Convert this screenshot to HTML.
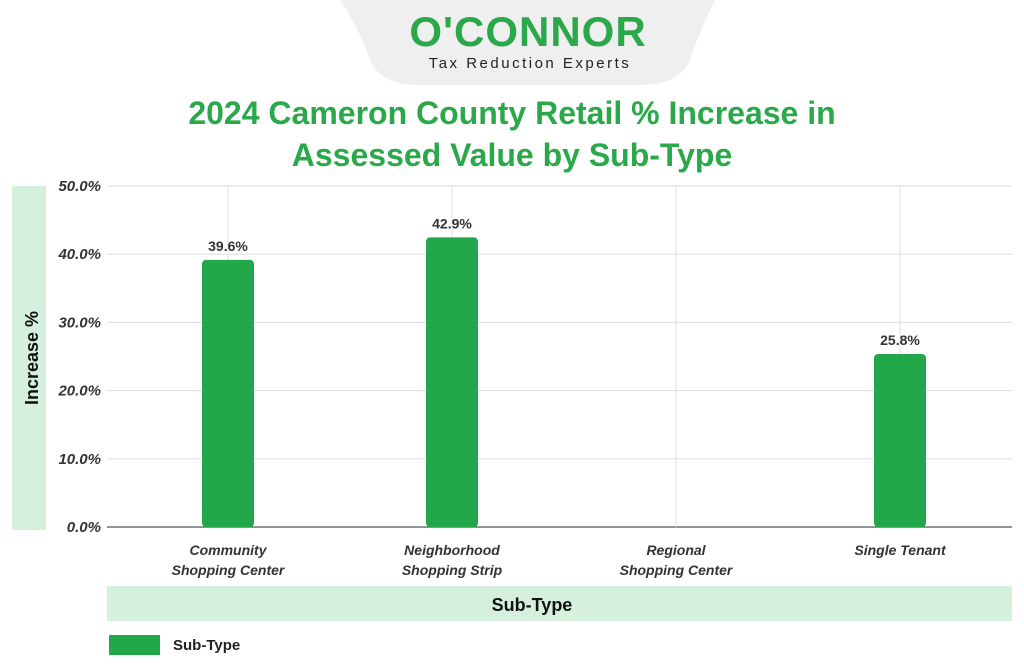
<!DOCTYPE html>
<html><head><meta charset="utf-8"><style>
body{margin:0;width:1024px;height:669px;background:#fff;font-family:"Liberation Sans",sans-serif;overflow:hidden;position:relative}
</style></head><body>
<svg width="1024" height="669" style="position:absolute;left:0;top:0">
<path d="M340 0 L715 0 Q700 30 690 60 Q680 85 640 85 L420 85 Q380 85 370 60 Q360 30 340 0Z" fill="#efefef"/>
<text x="528" y="46" text-anchor="middle" font-size="42" font-weight="bold" fill="#2aa84a" letter-spacing="1">O'CONNOR</text>
<text x="530" y="68" text-anchor="middle" font-size="15" fill="#222" letter-spacing="2.5">Tax Reduction Experts</text>
<text x="512" y="124" text-anchor="middle" font-size="32" font-weight="bold" fill="#2aa84a">2024 Cameron County Retail % Increase in</text>
<text x="512" y="166" text-anchor="middle" font-size="32" font-weight="bold" fill="#2aa84a">Assessed Value by Sub-Type</text>
<rect x="12" y="186" width="34" height="344" fill="#d5f0dc"/>
<text transform="translate(38,358) rotate(-90)" text-anchor="middle" font-size="18" font-weight="bold" fill="#111">Increase %</text>
<rect x="107" y="586" width="905" height="35" fill="#d5f0dc"/>
<text x="532" y="611" text-anchor="middle" font-size="18" font-weight="bold" fill="#111">Sub-Type</text>
<rect x="109" y="635" width="51" height="20" fill="#22a84a"/>
<text x="173" y="650" font-size="15" font-weight="bold" fill="#222">Sub-Type</text>
<g id="plot"></g>
</svg>
<script>
const categories=[["Community","Shopping Center"],["Neighborhood","Shopping Strip"],["Regional","Shopping Center"],["Single Tenant"]];
const values=[39.6,42.9,null,25.8];
const labels=["39.6%","42.9%","","25.8%"];
const yTicks=[0,10,20,30,40,50];
const NS="http://www.w3.org/2000/svg";
const g=document.getElementById('plot');
const y0=527,y1=186,x0=116,x1=1012,yMax=50;
const yS=v=>y0-(v/yMax)*(y0-y1);
const bw=(x1-x0)/categories.length;
const xS=i=>x0+bw*(i+0.5);
function mk(t,a,txt){const e=document.createElementNS(NS,t);for(const k in a)e.setAttribute(k,a[k]);if(txt!=null)e.textContent=txt;g.appendChild(e);return e;}
yTicks.forEach(t=>{
 const l=mk('line',{x1:107,x2:1012,y1:yS(t),y2:yS(t),stroke:t===0?'#555':'#ddd','stroke-width':t===0?1.2:1});
 
 
 const tx=mk('text',{x:101,y:yS(t)+5,'text-anchor':'end','font-size':15,'font-weight':'bold','font-style':'italic',fill:'#333'},t.toFixed(1)+'%');
 
 
});
categories.forEach((c,i)=>{
 const l=mk('line',{x1:xS(i),x2:xS(i),y1:y1,y2:y0,stroke:'#ddd'});
 
 
 c.forEach((s,j)=>{
  const t=mk('text',{x:xS(i),y:555+j*20,'text-anchor':'middle','font-size':14,'font-weight':'bold','font-style':'italic',fill:'#333'},s);
  
  
 });
 if(values[i]!=null){
  const b=mk('rect',{x:xS(i)-26,y:yS(values[i])+3,width:52,height:y0-yS(values[i])-3,rx:4,fill:'#22a84a'});
  
  
  const v=mk('text',{x:xS(i),y:yS(values[i])-6,'text-anchor':'middle','font-size':14,'font-weight':'bold',fill:'#333'},labels[i]);
  
  
 }
});
</script>
</body></html>
